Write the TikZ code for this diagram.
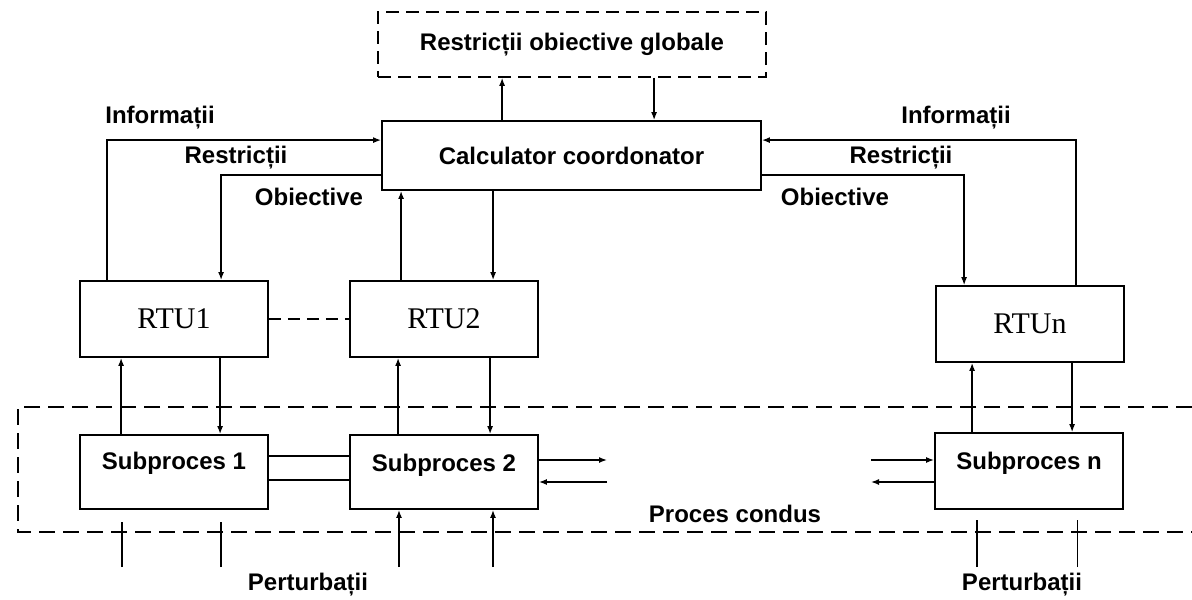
\documentclass[tikz,border=0pt]{standalone}
\usepackage{fontspec}
\setmainfont{Liberation Sans}
\newfontfamily\rtufont{Liberation Serif}
\usetikzlibrary{arrows.meta}
\begin{document}
\begin{tikzpicture}[x=1pt,y=-1pt,
  box/.style={draw,line width=1.8pt,inner sep=0pt,minimum width=188pt,minimum height=76pt},
  dbox/.style={draw,line width=1.6pt,dash pattern=on 13pt off 7pt,inner sep=0pt},
  lbl/.style={font=\fontsize{24}{28}\selectfont\bfseries,inner sep=0pt},
  rtu/.style={font=\rtufont\fontsize{30}{34}\selectfont},
  ln/.style={line width=1.4pt},
  arr/.style={ln,-{Latex[length=8pt,width=6pt]}}]
\useasboundingbox (0,0) rectangle (1192,600);
% global constraints and coordinator
\node[dbox,minimum width=388pt,minimum height=65pt,lbl] (gbox) at (572,44.5) {Restricții obiective globale};
\node[box,minimum width=379pt,minimum height=69pt,lbl] (calc) at (571.5,155.5) {Calculator coordonator};
% remote terminal units
\node[box,rtu] (rtu1) at (174,319) {RTU1};
\node[box,rtu] (rtu2) at (444,319) {RTU2};
\node[box,rtu] (rtun) at (1030,324) {RTUn};
% subprocesses
\node[box,minimum height=74pt] (sub1) at (174,472) {};
\node[box,minimum height=74pt] (sub2) at (444,472) {};
\node[box,minimum height=76pt] (subn) at (1029,471) {};
\node[lbl] (t1) at ([yshift=9pt]sub1.center) {Subproces 1};
\node[lbl] (t2) at ([yshift=7pt]sub2.center) {Subproces 2};
\node[lbl] (tn) at ([yshift=8pt]subn.center) {Subproces n};
% controlled process boundary
\draw[line width=1.6pt,dash pattern=on 16pt off 8pt] (1192,407) -- (18,407) -- (18,532) -- (1192,532);
\node[lbl] (pc) at (735,514) {Proces condus};
% labels
\node[lbl] (inf1) at (160,118) {Informații};
\node[lbl] (res1) at (236,158) {Restricții};
\node[lbl] (obj1) at (309,197) {Obiective};
\node[lbl] (inf2) at (956,118) {Informații};
\node[lbl] (res2) at (901,158) {Restricții};
\node[lbl] (obj2) at (835,197) {Obiective};
\node[lbl] (pert1) at (308,585) {Perturbații};
\node[lbl] (pert2) at (1022,585) {Perturbații};
% coordinator <-> global box
\draw[arr] ([xshift=121pt]calc.north west) -- ([xshift=121pt]calc.north west |- gbox.south);
\draw[arr] ([xshift=273pt]calc.north west |- gbox.south) -- ([xshift=273pt]calc.north west);
% left loop
\draw[arr] ([xshift=28pt]rtu1.north west) |- ([yshift=-20pt]calc.north west);
\draw[arr] ([yshift=16pt]calc.south west) -| ([xshift=142pt]rtu1.north west);
% RTU2 <-> coordinator
\draw[arr] ([xshift=52pt]rtu2.north west) -- ([xshift=52pt]rtu2.north west |- calc.south);
\draw[arr] ([xshift=144pt]rtu2.north west |- calc.south) -- ([xshift=144pt]rtu2.north west);
% right loop
\draw[arr] ([xshift=141pt]rtun.north west) |- ([yshift=-20pt]calc.north east);
\draw[arr] ([yshift=16pt]calc.south east) -| ([xshift=29pt]rtun.north west);
% RTU1 -- RTU2
\draw[line width=1.6pt,dash pattern=on 12pt off 7pt] (rtu1.east) -- (rtu2.west);
% RTU <-> subprocess
\draw[arr] ([xshift=42pt]sub1.north west) -- ([xshift=42pt]sub1.north west |- rtu1.south);
\draw[arr] ([xshift=141pt]rtu1.south west) -- ([xshift=141pt]rtu1.south west |- sub1.north);
\draw[arr] ([xshift=49pt]sub2.north west) -- ([xshift=49pt]sub2.north west |- rtu2.south);
\draw[arr] ([xshift=141pt]rtu2.south west) -- ([xshift=141pt]rtu2.south west |- sub2.north);
\draw[arr] ([xshift=38pt]subn.north west) -- ([xshift=38pt]subn.north west |- rtun.south);
\draw[arr] ([xshift=137pt]rtun.south west) -- ([xshift=137pt]rtun.south west |- subn.north);
% links between subprocesses
\draw[ln] ([yshift=-22pt]sub1.north east) -- ([yshift=-22pt]sub1.north east -| sub2.west);
\draw[ln] ([yshift=-46pt]sub1.north east) -- ([yshift=-46pt]sub1.north east -| sub2.west);
\coordinate (o2a) at (607,460);
\coordinate (o2b) at (607,482);
\coordinate (ina) at (871,460);
\coordinate (inb) at (871,482);
\draw[arr] (o2a -| sub2.east) -- (o2a);
\draw[arr] (o2b) -- (o2b -| sub2.east);
\draw[arr] (ina) -- (ina -| subn.west);
\draw[arr] (inb -| subn.west) -- (inb);
% disturbances
\coordinate (d1a) at (122,567); \coordinate (d1b) at (221,567);
\coordinate (d2a) at (399,567); \coordinate (d2b) at (493,567);
\coordinate (dna) at (977,567); \coordinate (dnb) at (1077,567);
\draw[ln] (d1a) -- ++(0,-45);
\draw[ln] (d1b) -- ++(0,-45);
\draw[arr] (d2a) -- (d2a |- sub2.south);
\draw[arr] (d2b) -- (d2b |- sub2.south);
\draw[ln] (dna) -- ++(0,-47);
\draw[line width=0.9pt] (dnb) -- ++(0,-47);
\end{tikzpicture}
\end{document}
